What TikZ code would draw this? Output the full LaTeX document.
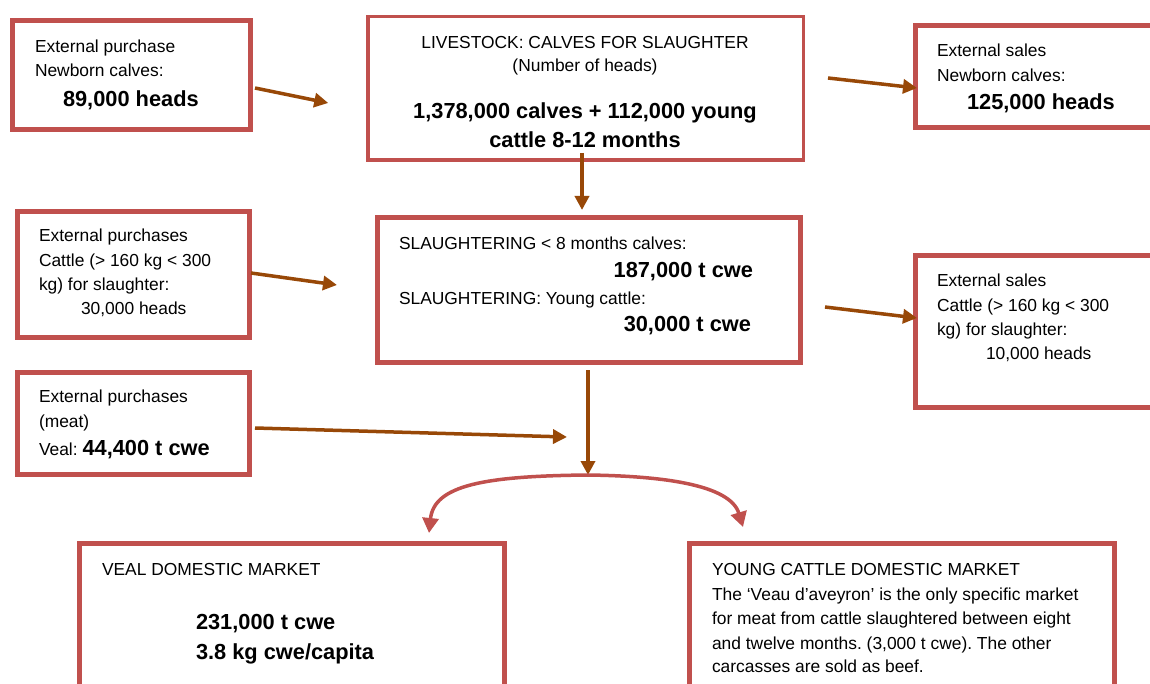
\documentclass[tikz,border=0pt]{standalone}
\usepackage{fontspec}
\setmainfont{Liberation Sans}
\usetikzlibrary{arrows.meta}
\definecolor{boxred}{RGB}{192,80,77}
\definecolor{flowbrown}{RGB}{152,72,7}
\frenchspacing
\begin{document}
\begin{tikzpicture}[x=1pt,y=-1pt,
  box/.style={draw=boxred, line width=5pt, rectangle, inner sep=0pt, outer sep=0pt, anchor=north west},
  txt/.style={anchor=base west, inner sep=0pt, outer sep=0pt, font=\fontsize{17.4}{24}\selectfont},
  ctxt/.style={txt, anchor=base},
  big/.style={anchor=base west, inner sep=0pt, outer sep=0pt, font=\fontsize{21.8}{26}\selectfont\bfseries},
  cbig/.style={big, anchor=base},
  rbig/.style={big, anchor=base east},
  flow/.style={draw=flowbrown, line width=3.5pt, -{Triangle[length=14pt,width=14pt]}},
  split/.style={draw=boxred, line width=3.5pt,
    {Triangle[length=15pt,width=16pt]}-{Triangle[length=15pt,width=16pt]}}
]
\path[use as bounding box] (0,0) rectangle (1150,684);
\clip (0,0) rectangle (1150,684);
\fill[white] (0,0) rectangle (1150,684);

% ---- boxes ----
\node[box, minimum width=238pt, minimum height=109pt] (b1) at (12.5,20.5) {};
\node[box, line width=3.5pt, minimum width=435.5pt, minimum height=143.5pt] (b2) at (367.75,16.75) {};
\node[box, minimum width=260pt, minimum height=102pt] (b3) at (915.5,25.5) {};
\node[box, minimum width=232pt, minimum height=126pt] (b4) at (17.5,211.5) {};
\node[box, minimum width=232pt, minimum height=102pt] (b5) at (17.5,372.5) {};
\node[box, minimum width=423pt, minimum height=145pt] (b6) at (377.5,217.5) {};
\node[box, minimum width=260pt, minimum height=152pt] (b7) at (915.5,255.5) {};
\node[box, minimum width=425pt, minimum height=200pt] (b8) at (79.5,543.5) {};
\node[box, minimum width=425pt, minimum height=200pt] (b9) at (689.5,543.5) {};

% ---- box texts ----
\node[txt] (t1a) at (35,52.7) {External purchase};
\node[txt] (t1b) at (35,76.7) {Newborn calves:};
\node[big] (t1c) at (63,106.7) {89,000 heads};

\node[ctxt] (t2a) at (585,48.3) {LIVESTOCK: CALVES FOR SLAUGHTER};
\node[ctxt] (t2b) at (585,71.7) {(Number of heads)};
\node[cbig] (t2c) at (585,118.3) {1,378,000 calves + 112,000 young};
\node[cbig] (t2d) at (585,147.3) {cattle 8-12 months};

\node[txt] (t3a) at (937,56.7) {External sales};
\node[txt] (t3b) at (937,81.7) {Newborn calves:};
\node[big] (t3c) at (967,110) {125,000 heads};

\node[txt] (t4a) at (39,241.7) {External purchases};
\node[txt] (t4b) at (39,266.7) {Cattle (> 160 kg < 300};
\node[txt] (t4c) at (39,290.5) {kg) for slaughter:};
\node[txt] (t4d) at (81,315) {30,000 heads};

\node[txt] (t5a) at (39,402.7) {External purchases};
\node[txt] (t5b) at (39,427) {(meat)};
\node[txt] (t5c) at (39,455) {Veal: {\fontsize{21.8}{26}\selectfont\bfseries 44,400 t cwe}};

\node[txt] (t6a) at (399,249.3) {SLAUGHTERING < 8 months calves:};
\node[rbig] (t6b) at (753,277.7) {187,000 t cwe};
\node[txt] (t6c) at (399,305) {SLAUGHTERING: Young cattle:};
\node[rbig] (t6d) at (751,331.7) {30,000 t cwe};

\node[txt] (t7a) at (937,286.7) {External sales};
\node[txt] (t7b) at (937,311.7) {Cattle (> 160 kg < 300};
\node[txt] (t7c) at (937,335) {kg) for slaughter:};
\node[txt] (t7d) at (986,359.3) {10,000 heads};

\node[txt] (t8a) at (102,575) {VEAL DOMESTIC MARKET};
\node[big] (t8b) at (196,629.3) {231,000 t cwe};
\node[big] (t8c) at (196,659.3) {3.8 kg cwe/capita};

\node[txt] (t9a) at (712,575) {YOUNG CATTLE DOMESTIC MARKET};
\node[txt] (t9b) at (712,600.7) {The ‘Veau d’aveyron’ is the only specific market};
\node[txt] (t9c) at (712,624.3) {for meat from cattle slaughtered between eight};
\node[txt] (t9d) at (712,649) {and twelve months. (3,000 t cwe). The other};
\node[txt] (t9e) at (712,672.7) {carcasses are sold as beef.};

% ---- flow arrows ----
\coordinate (merge) at (567,437);
\coordinate (fork) at (588,475);
\coordinate (vealtip) at (429,533);
\coordinate (youngtip) at (743,527);

\draw[flow] ([xshift=4.5pt,yshift=-13pt]b1.east) -- ([xshift=-39.5pt,yshift=-14.5pt]b2.west);
\draw[flow] ([xshift=-3.5pt,yshift=7.25pt]b2.south) -- ([xshift=-7pt,yshift=7.5pt]b6.north);
\draw[flow] ([xshift=24.75pt,yshift=10.5pt]b2.east) -- ([xshift=1.5pt,yshift=-11.5pt]b3.west);
\draw[flow] ([xshift=1.5pt,yshift=1.5pt]b4.east) -- ([xshift=-40.5pt,yshift=5pt]b6.west);
\draw[flow] ([xshift=24.5pt,yshift=-17pt]b6.east) -- ([xshift=1.5pt,yshift=13.5pt]b7.west);
\draw[flow] ([xshift=5.5pt,yshift=-4.5pt]b5.east) -- (merge);
\draw[flow] ([xshift=-1pt,yshift=-7.5pt]b6.south) -- (fork);

% ---- split towards the two markets ----
\draw[split] (vealtip) .. controls (434,485) and (485,476) .. (fork)
  .. controls (660,476) and (730,484) .. (youngtip);
\end{tikzpicture}
\end{document}
